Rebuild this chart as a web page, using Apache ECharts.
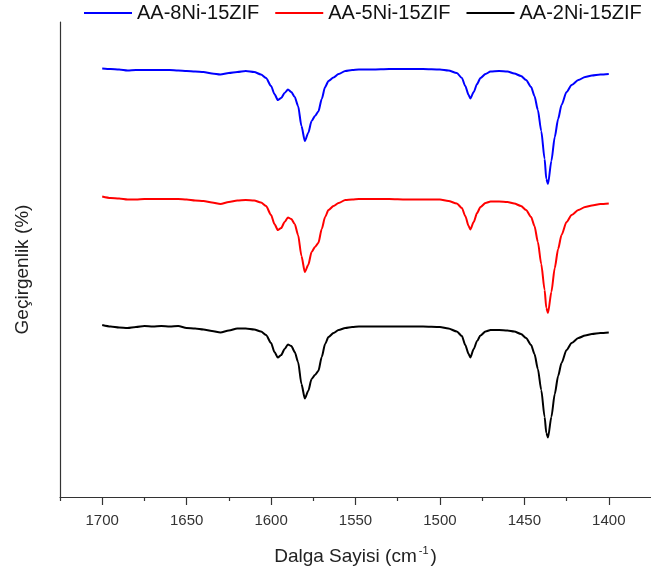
<!DOCTYPE html>
<html>
<head>
<meta charset="utf-8">
<script src="https://cdn.jsdelivr.net/npm/echarts@6/dist/echarts.min.js"></script>
<style>
  html, body { margin: 0; padding: 0; background: #fff; }
  #chart { width: 651px; height: 576px; }
</style>
</head>
<body>
<div id="chart"></div>
<script>
// FTIR spectra, wavenumber in cm-1 (shared sampling grid)
const wavenumbers = [
  1700, 1695, 1690, 1685, 1680, 1675, 1670, 1665, 1660, 1655,
  1650, 1645, 1640, 1635, 1630, 1625, 1620, 1615, 1610, 1606,
  1603, 1600, 1598, 1596, 1594, 1592, 1590, 1588, 1586, 1584,
  1582, 1580, 1578, 1576, 1574, 1572, 1570, 1568, 1566, 1563,
  1560, 1556, 1552, 1548, 1544, 1540, 1530, 1520, 1510, 1500,
  1495, 1490, 1487, 1485, 1483, 1482, 1480, 1478, 1476, 1473,
  1470, 1465, 1460, 1456, 1452, 1449, 1446, 1444, 1442, 1440,
  1438, 1437, 1436, 1434, 1432, 1430, 1428, 1425, 1422, 1418,
  1414, 1410, 1405, 1400
];

// Transmittance (arbitrary units, curves stacked with an offset)
const aa8Ni = [
  428.5, 428, 427.5, 426.5, 427, 427, 427, 427, 427, 426.5,
  426, 425.5, 425, 423.5, 422.5, 424, 425, 426, 425, 422.5,
  419, 411, 403, 397, 399, 404, 407.5, 405, 400, 391,
  371, 356, 364, 376, 381, 385.5, 398, 410, 416, 419.5,
  423, 426, 427, 427.5, 427.5, 427.5, 428, 428, 428, 427.5,
  426.5, 424, 419, 411, 402, 398.5, 405, 413, 419, 423,
  425.5, 426, 425.5, 423.5, 421, 417, 410, 401, 387, 366,
  338, 318, 313, 336, 360, 378, 392, 405, 412, 417,
  420, 421.5, 422.5, 423
];

const aa5Ni = [
  300.5, 299, 298.5, 297.5, 297.5, 298, 298, 298, 298, 298,
  297.5, 296.5, 296, 294.5, 293, 295, 296.5, 297, 296.5, 294.5,
  291, 282, 273, 267, 269, 275, 279.5, 278, 273, 262,
  241, 225, 232, 245, 250, 254, 268, 280, 287, 291,
  294, 297, 297.5, 298, 298, 298, 298, 297.5, 297.5, 297.5,
  296, 293.5, 289, 281, 271, 267.5, 275, 284, 290, 294,
  295.5, 295.5, 295, 293.5, 291, 287, 280, 271, 255, 233,
  207, 189, 184, 205, 229, 248, 262, 275, 282, 287,
  290, 291.5, 293, 293.5
];

const aa2Ni = [
  172, 170.5, 169.5, 169, 170, 171, 170.5, 171, 170.5, 171,
  169, 168.5, 167.5, 166, 164.5, 166.5, 168.5, 168.5, 167.5, 165.5,
  162, 154, 145, 139.5, 142, 148, 152.5, 151, 145, 135,
  113, 98.5, 106, 118, 122, 126, 140, 153, 160, 164,
  167, 169, 170, 170.5, 170.5, 170.5, 170.5, 170.5, 170.5, 170,
  168.5, 165.5, 161, 152, 143, 139.5, 148, 156, 161.5, 165.5,
  167, 167, 166.5, 165.5, 163, 159, 152, 143, 128, 107,
  80, 64, 59.5, 80, 103, 121, 134, 147, 154, 159,
  161.5, 163, 164, 164.5
];

const seriesNames = ['AA-8Ni-15ZIF', 'AA-5Ni-15ZIF', 'AA-2Ni-15ZIF'];
const seriesColors = ['#0000ff', '#ff0000', '#000000'];
const seriesValues = [aa8Ni, aa5Ni, aa2Ni];

const majorTicks = [1400, 1450, 1500, 1550, 1600, 1650, 1700];
const minorTicks = [1425, 1475, 1525, 1575, 1625, 1675, 1725];

const FONT = 'Liberation Sans, Arial, sans-serif';

const chart = echarts.init(document.getElementById('chart'), null, { renderer: 'canvas' });

const axisLineStyle = { color: '#333', width: 1.2 };

chart.setOption({
  animation: false,
  backgroundColor: '#fff',
  legend: {
    left: 84,
    top: 3,
    padding: 0,
    itemWidth: 48,
    itemHeight: 14,
    itemGap: 16,
    icon: 'path://M0,6 L48,6 L48,8 L0,8 Z',
    textStyle: { fontFamily: FONT, fontSize: 20, color: '#111' },
    data: seriesNames
  },
  grid: { left: 60, top: 22, width: 593, height: 475, containLabel: false },
  xAxis: [
    {
      type: 'value',
      inverse: true,
      min: 1375,
      max: 1725,
      name: 'Dalga Sayisi (cm{sup|-1})',
      nameLocation: 'middle',
      nameGap: 48,
      nameTextStyle: {
        fontFamily: FONT, fontSize: 19, color: '#222',
        rich: { sup: { fontFamily: FONT, fontSize: 11, color: '#222', padding: [0, 2, 12, 2] } }
      },
      axisLine: { show: true, lineStyle: axisLineStyle },
      axisTick: { show: true, length: 8, lineStyle: axisLineStyle, customValues: majorTicks },
      axisLabel: {
        customValues: majorTicks,
        formatter: (v) => String(v),
        margin: 16,
        fontFamily: FONT, fontSize: 15, color: '#333'
      },
      splitLine: { show: false }
    },
    {
      type: 'value',
      inverse: true,
      min: 1375,
      max: 1725,
      position: 'bottom',
      axisLine: { show: false },
      axisTick: { show: true, length: 4, lineStyle: axisLineStyle, customValues: minorTicks },
      axisLabel: { show: false },
      splitLine: { show: false }
    }
  ],
  yAxis: {
    type: 'value',
    min: 0,
    max: 475,
    name: 'Geçirgenlik (%)',
    nameLocation: 'middle',
    nameGap: 28,
    nameTextStyle: { fontFamily: FONT, fontSize: 19, color: '#222', padding: [0, 20, 0, 0] },
    axisLine: { show: true, lineStyle: axisLineStyle },
    axisTick: { show: false },
    axisLabel: { show: false },
    splitLine: { show: false }
  },
  series: seriesNames.map((name, k) => ({
    name: name,
    type: 'line',
    xAxisIndex: 0,
    symbol: 'none',
    smooth: 0.25,
    smoothMonotone: 'x',
    color: seriesColors[k],
    lineStyle: { color: seriesColors[k], width: 2 },
    data: wavenumbers.map((w, i) => [w, seriesValues[k][i]])
  }))
});
</script>
</body>
</html>
